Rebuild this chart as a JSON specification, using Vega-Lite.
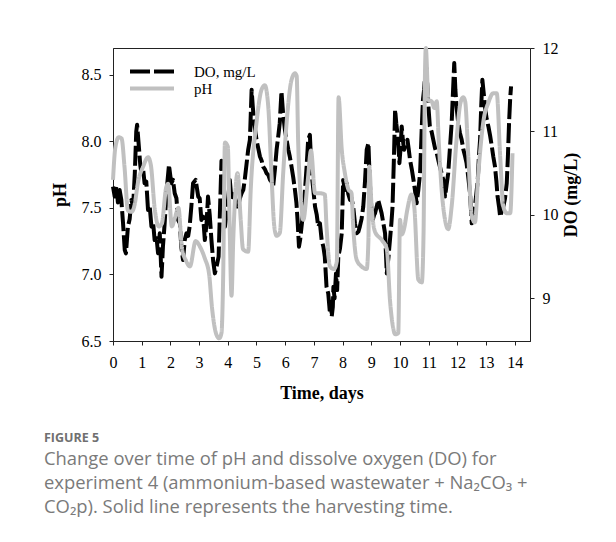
{
  "$schema": "https://vega.github.io/schema/vega-lite/v6.json",
  "width": 417,
  "height": 293,
  "autosize": {"type": "none"},
  "padding": {"left": 113, "top": 48, "right": 86, "bottom": 201},
  "background": "white",
  "config": {
    "view": {"stroke": "#222", "strokeWidth": 1},
    "axis": {
      "labelFont": "Liberation Serif", "labelFontSize": 16, "labelColor": "black",
      "titleFont": "Liberation Serif", "titleFontSize": 18, "titleFontWeight": "bold", "titleColor": "black",
      "domainColor": "#222", "tickColor": "#222", "tickSize": 4, "grid": false, "labelOverlap": false
    }
  },
  "title": {
    "text": "FIGURE 5",
    "subtitle": [
      "Change over time of pH and dissolve oxygen (DO) for",
      "experiment 4 (ammonium-based wastewater + Na₂CO₃ +",
      "CO₂p). Solid line represents the harvesting time."
    ],
    "orient": "bottom", "anchor": "start", "frame": "group", "dx": -69, "offset": 30,
    "font": "Open Sans", "fontSize": 12.5, "fontWeight": "bold", "color": "#707070",
    "subtitleFont": "Open Sans", "subtitleFontSize": 18.4, "subtitleColor": "#7a7a7a",
    "subtitleLineHeight": 24, "subtitlePadding": 5
  },
  "datasets": {
    "do": [
      {"t":0.0,"v":10.34,"s":"DO, mg/L"},{"t":0.06,"v":10.22,"s":"DO, mg/L"},{"t":0.12,"v":10.35,"s":"DO, mg/L"},{"t":0.17,"v":10.15,"s":"DO, mg/L"},
      {"t":0.23,"v":10.3,"s":"DO, mg/L"},{"t":0.29,"v":10.18,"s":"DO, mg/L"},{"t":0.35,"v":9.9,"s":"DO, mg/L"},{"t":0.41,"v":9.58,"s":"DO, mg/L"},
      {"t":0.45,"v":9.54,"s":"DO, mg/L"},{"t":0.52,"v":9.86,"s":"DO, mg/L"},{"t":0.58,"v":9.95,"s":"DO, mg/L"},{"t":0.64,"v":10.18,"s":"DO, mg/L"},
      {"t":0.7,"v":10.1,"s":"DO, mg/L"},{"t":0.76,"v":10.5,"s":"DO, mg/L"},{"t":0.81,"v":11.0,"s":"DO, mg/L"},{"t":0.84,"v":11.08,"s":"DO, mg/L"},
      {"t":0.91,"v":10.78,"s":"DO, mg/L"},{"t":0.95,"v":10.6,"s":"DO, mg/L"},{"t":0.99,"v":10.5,"s":"DO, mg/L"},{"t":1.05,"v":10.55,"s":"DO, mg/L"},
      {"t":1.1,"v":10.38,"s":"DO, mg/L"},{"t":1.16,"v":10.4,"s":"DO, mg/L"},{"t":1.22,"v":10.06,"s":"DO, mg/L"},{"t":1.28,"v":10.1,"s":"DO, mg/L"},
      {"t":1.34,"v":9.86,"s":"DO, mg/L"},{"t":1.4,"v":9.9,"s":"DO, mg/L"},{"t":1.45,"v":9.7,"s":"DO, mg/L"},{"t":1.51,"v":9.75,"s":"DO, mg/L"},
      {"t":1.57,"v":9.54,"s":"DO, mg/L"},{"t":1.63,"v":9.78,"s":"DO, mg/L"},{"t":1.69,"v":9.26,"s":"DO, mg/L"},{"t":1.74,"v":9.62,"s":"DO, mg/L"},
      {"t":1.8,"v":9.9,"s":"DO, mg/L"},{"t":1.86,"v":10.26,"s":"DO, mg/L"},{"t":1.95,"v":10.6,"s":"DO, mg/L"},{"t":2.03,"v":10.38,"s":"DO, mg/L"},
      {"t":2.09,"v":10.42,"s":"DO, mg/L"},{"t":2.15,"v":10.26,"s":"DO, mg/L"},{"t":2.21,"v":10.2,"s":"DO, mg/L"},{"t":2.27,"v":9.94,"s":"DO, mg/L"},
      {"t":2.33,"v":9.9,"s":"DO, mg/L"},{"t":2.38,"v":9.62,"s":"DO, mg/L"},{"t":2.44,"v":9.46,"s":"DO, mg/L"},{"t":2.5,"v":9.7,"s":"DO, mg/L"},
      {"t":2.56,"v":9.78,"s":"DO, mg/L"},{"t":2.62,"v":9.75,"s":"DO, mg/L"},{"t":2.67,"v":9.86,"s":"DO, mg/L"},{"t":2.73,"v":10.1,"s":"DO, mg/L"},
      {"t":2.79,"v":10.38,"s":"DO, mg/L"},{"t":2.88,"v":10.42,"s":"DO, mg/L"},{"t":2.97,"v":10.22,"s":"DO, mg/L"},{"t":3.02,"v":10.2,"s":"DO, mg/L"},
      {"t":3.08,"v":9.94,"s":"DO, mg/L"},{"t":3.14,"v":9.98,"s":"DO, mg/L"},{"t":3.2,"v":9.7,"s":"DO, mg/L"},{"t":3.26,"v":9.9,"s":"DO, mg/L"},
      {"t":3.31,"v":10.22,"s":"DO, mg/L"},{"t":3.37,"v":10.0,"s":"DO, mg/L"},{"t":3.43,"v":9.7,"s":"DO, mg/L"},{"t":3.49,"v":9.45,"s":"DO, mg/L"},
      {"t":3.55,"v":9.3,"s":"DO, mg/L"},{"t":3.62,"v":9.4,"s":"DO, mg/L"},{"t":3.68,"v":9.5,"s":"DO, mg/L"},{"t":3.74,"v":10.2,"s":"DO, mg/L"},
      {"t":3.78,"v":10.65,"s":"DO, mg/L"},{"t":3.84,"v":10.3,"s":"DO, mg/L"},{"t":3.9,"v":9.86,"s":"DO, mg/L"},{"t":3.96,"v":10.0,"s":"DO, mg/L"},
      {"t":4.01,"v":10.18,"s":"DO, mg/L"},{"t":4.07,"v":10.42,"s":"DO, mg/L"},{"t":4.13,"v":10.18,"s":"DO, mg/L"},{"t":4.19,"v":10.25,"s":"DO, mg/L"},
      {"t":4.24,"v":10.22,"s":"DO, mg/L"},{"t":4.3,"v":10.1,"s":"DO, mg/L"},{"t":4.36,"v":10.1,"s":"DO, mg/L"},{"t":4.42,"v":10.2,"s":"DO, mg/L"},
      {"t":4.48,"v":10.26,"s":"DO, mg/L"},{"t":4.54,"v":10.3,"s":"DO, mg/L"},{"t":4.59,"v":10.42,"s":"DO, mg/L"},{"t":4.65,"v":10.6,"s":"DO, mg/L"},
      {"t":4.71,"v":10.78,"s":"DO, mg/L"},{"t":4.77,"v":10.9,"s":"DO, mg/L"},{"t":4.83,"v":11.5,"s":"DO, mg/L"},{"t":4.87,"v":11.3,"s":"DO, mg/L"},
      {"t":4.92,"v":11.1,"s":"DO, mg/L"},{"t":4.96,"v":11.0,"s":"DO, mg/L"},{"t":5.0,"v":10.9,"s":"DO, mg/L"},{"t":5.06,"v":10.8,"s":"DO, mg/L"},
      {"t":5.12,"v":10.7,"s":"DO, mg/L"},{"t":5.18,"v":10.65,"s":"DO, mg/L"},{"t":5.23,"v":10.58,"s":"DO, mg/L"},{"t":5.29,"v":10.55,"s":"DO, mg/L"},
      {"t":5.35,"v":10.5,"s":"DO, mg/L"},{"t":5.41,"v":10.48,"s":"DO, mg/L"},{"t":5.47,"v":10.42,"s":"DO, mg/L"},{"t":5.52,"v":10.4,"s":"DO, mg/L"},
      {"t":5.58,"v":10.34,"s":"DO, mg/L"},{"t":5.64,"v":10.54,"s":"DO, mg/L"},{"t":5.7,"v":10.78,"s":"DO, mg/L"},{"t":5.76,"v":10.95,"s":"DO, mg/L"},
      {"t":5.81,"v":11.1,"s":"DO, mg/L"},{"t":5.87,"v":11.48,"s":"DO, mg/L"},{"t":5.93,"v":11.2,"s":"DO, mg/L"},{"t":5.99,"v":11.02,"s":"DO, mg/L"},
      {"t":6.05,"v":10.9,"s":"DO, mg/L"},{"t":6.11,"v":10.78,"s":"DO, mg/L"},{"t":6.16,"v":10.7,"s":"DO, mg/L"},{"t":6.22,"v":10.58,"s":"DO, mg/L"},
      {"t":6.28,"v":10.45,"s":"DO, mg/L"},{"t":6.34,"v":10.3,"s":"DO, mg/L"},{"t":6.39,"v":10.15,"s":"DO, mg/L"},{"t":6.43,"v":9.94,"s":"DO, mg/L"},
      {"t":6.48,"v":9.62,"s":"DO, mg/L"},{"t":6.52,"v":9.7,"s":"DO, mg/L"},{"t":6.57,"v":9.86,"s":"DO, mg/L"},{"t":6.63,"v":10.05,"s":"DO, mg/L"},
      {"t":6.69,"v":10.3,"s":"DO, mg/L"},{"t":6.75,"v":10.6,"s":"DO, mg/L"},{"t":6.8,"v":10.9,"s":"DO, mg/L"},{"t":6.86,"v":10.96,"s":"DO, mg/L"},
      {"t":6.92,"v":10.5,"s":"DO, mg/L"},{"t":6.98,"v":10.3,"s":"DO, mg/L"},{"t":7.04,"v":10.1,"s":"DO, mg/L"},{"t":7.1,"v":10.0,"s":"DO, mg/L"},
      {"t":7.15,"v":9.86,"s":"DO, mg/L"},{"t":7.21,"v":9.9,"s":"DO, mg/L"},{"t":7.27,"v":9.7,"s":"DO, mg/L"},{"t":7.33,"v":9.62,"s":"DO, mg/L"},
      {"t":7.38,"v":9.5,"s":"DO, mg/L"},{"t":7.44,"v":9.14,"s":"DO, mg/L"},{"t":7.5,"v":9.06,"s":"DO, mg/L"},{"t":7.56,"v":8.82,"s":"DO, mg/L"},
      {"t":7.6,"v":8.95,"s":"DO, mg/L"},{"t":7.62,"v":8.78,"s":"DO, mg/L"},{"t":7.66,"v":8.9,"s":"DO, mg/L"},{"t":7.68,"v":9.14,"s":"DO, mg/L"},
      {"t":7.72,"v":9.0,"s":"DO, mg/L"},{"t":7.77,"v":9.3,"s":"DO, mg/L"},{"t":7.81,"v":9.1,"s":"DO, mg/L"},{"t":7.85,"v":9.5,"s":"DO, mg/L"},
      {"t":7.91,"v":9.6,"s":"DO, mg/L"},{"t":7.97,"v":9.78,"s":"DO, mg/L"},{"t":8.02,"v":10.42,"s":"DO, mg/L"},{"t":8.08,"v":10.3,"s":"DO, mg/L"},
      {"t":8.14,"v":10.38,"s":"DO, mg/L"},{"t":8.2,"v":10.25,"s":"DO, mg/L"},{"t":8.26,"v":10.18,"s":"DO, mg/L"},{"t":8.31,"v":10.2,"s":"DO, mg/L"},
      {"t":8.37,"v":10.1,"s":"DO, mg/L"},{"t":8.43,"v":9.9,"s":"DO, mg/L"},{"t":8.49,"v":9.78,"s":"DO, mg/L"},{"t":8.55,"v":9.8,"s":"DO, mg/L"},
      {"t":8.6,"v":9.86,"s":"DO, mg/L"},{"t":8.66,"v":9.95,"s":"DO, mg/L"},{"t":8.72,"v":10.1,"s":"DO, mg/L"},{"t":8.78,"v":10.4,"s":"DO, mg/L"},
      {"t":8.84,"v":10.78,"s":"DO, mg/L"},{"t":8.9,"v":10.86,"s":"DO, mg/L"},{"t":8.95,"v":10.38,"s":"DO, mg/L"},{"t":9.0,"v":10.1,"s":"DO, mg/L"},
      {"t":9.05,"v":9.94,"s":"DO, mg/L"},{"t":9.1,"v":10.0,"s":"DO, mg/L"},{"t":9.13,"v":10.02,"s":"DO, mg/L"},{"t":9.19,"v":10.1,"s":"DO, mg/L"},
      {"t":9.24,"v":10.18,"s":"DO, mg/L"},{"t":9.3,"v":10.1,"s":"DO, mg/L"},{"t":9.36,"v":10.02,"s":"DO, mg/L"},{"t":9.42,"v":9.9,"s":"DO, mg/L"},
      {"t":9.48,"v":9.78,"s":"DO, mg/L"},{"t":9.54,"v":9.3,"s":"DO, mg/L"},{"t":9.6,"v":9.5,"s":"DO, mg/L"},{"t":9.65,"v":9.7,"s":"DO, mg/L"},
      {"t":9.7,"v":9.9,"s":"DO, mg/L"},{"t":9.74,"v":10.1,"s":"DO, mg/L"},{"t":9.79,"v":10.7,"s":"DO, mg/L"},{"t":9.83,"v":11.26,"s":"DO, mg/L"},
      {"t":9.87,"v":11.1,"s":"DO, mg/L"},{"t":9.91,"v":10.98,"s":"DO, mg/L"},{"t":9.95,"v":10.8,"s":"DO, mg/L"},{"t":9.98,"v":10.62,"s":"DO, mg/L"},
      {"t":10.02,"v":10.8,"s":"DO, mg/L"},{"t":10.06,"v":11.06,"s":"DO, mg/L"},{"t":10.1,"v":10.9,"s":"DO, mg/L"},{"t":10.14,"v":10.78,"s":"DO, mg/L"},
      {"t":10.2,"v":10.85,"s":"DO, mg/L"},{"t":10.26,"v":10.9,"s":"DO, mg/L"},{"t":10.3,"v":10.8,"s":"DO, mg/L"},{"t":10.35,"v":10.66,"s":"DO, mg/L"},
      {"t":10.41,"v":10.55,"s":"DO, mg/L"},{"t":10.47,"v":10.42,"s":"DO, mg/L"},{"t":10.52,"v":10.3,"s":"DO, mg/L"},{"t":10.58,"v":10.14,"s":"DO, mg/L"},
      {"t":10.64,"v":10.3,"s":"DO, mg/L"},{"t":10.7,"v":10.5,"s":"DO, mg/L"},{"t":10.76,"v":11.06,"s":"DO, mg/L"},{"t":10.8,"v":11.38,"s":"DO, mg/L"},
      {"t":10.84,"v":11.5,"s":"DO, mg/L"},{"t":10.88,"v":11.7,"s":"DO, mg/L"},{"t":10.92,"v":11.76,"s":"DO, mg/L"},{"t":10.96,"v":11.5,"s":"DO, mg/L"},
      {"t":10.99,"v":11.3,"s":"DO, mg/L"},{"t":11.04,"v":11.06,"s":"DO, mg/L"},{"t":11.1,"v":11.0,"s":"DO, mg/L"},{"t":11.16,"v":10.9,"s":"DO, mg/L"},
      {"t":11.22,"v":10.8,"s":"DO, mg/L"},{"t":11.28,"v":10.74,"s":"DO, mg/L"},{"t":11.34,"v":10.65,"s":"DO, mg/L"},{"t":11.39,"v":10.58,"s":"DO, mg/L"},
      {"t":11.45,"v":10.5,"s":"DO, mg/L"},{"t":11.51,"v":10.42,"s":"DO, mg/L"},{"t":11.57,"v":10.22,"s":"DO, mg/L"},{"t":11.62,"v":10.35,"s":"DO, mg/L"},
      {"t":11.68,"v":10.5,"s":"DO, mg/L"},{"t":11.74,"v":10.8,"s":"DO, mg/L"},{"t":11.8,"v":11.1,"s":"DO, mg/L"},{"t":11.85,"v":11.5,"s":"DO, mg/L"},
      {"t":11.89,"v":11.82,"s":"DO, mg/L"},{"t":11.93,"v":11.5,"s":"DO, mg/L"},{"t":11.97,"v":11.3,"s":"DO, mg/L"},{"t":12.03,"v":11.1,"s":"DO, mg/L"},
      {"t":12.09,"v":10.98,"s":"DO, mg/L"},{"t":12.15,"v":10.9,"s":"DO, mg/L"},{"t":12.21,"v":10.78,"s":"DO, mg/L"},{"t":12.27,"v":10.7,"s":"DO, mg/L"},
      {"t":12.32,"v":10.62,"s":"DO, mg/L"},{"t":12.38,"v":10.45,"s":"DO, mg/L"},{"t":12.44,"v":10.26,"s":"DO, mg/L"},{"t":12.5,"v":9.9,"s":"DO, mg/L"},
      {"t":12.55,"v":10.0,"s":"DO, mg/L"},{"t":12.61,"v":10.1,"s":"DO, mg/L"},{"t":12.66,"v":10.25,"s":"DO, mg/L"},{"t":12.71,"v":10.42,"s":"DO, mg/L"},
      {"t":12.75,"v":10.7,"s":"DO, mg/L"},{"t":12.79,"v":10.9,"s":"DO, mg/L"},{"t":12.83,"v":11.3,"s":"DO, mg/L"},{"t":12.87,"v":11.62,"s":"DO, mg/L"},
      {"t":12.92,"v":11.45,"s":"DO, mg/L"},{"t":12.96,"v":11.3,"s":"DO, mg/L"},{"t":13.02,"v":11.15,"s":"DO, mg/L"},{"t":13.08,"v":11.06,"s":"DO, mg/L"},
      {"t":13.14,"v":10.95,"s":"DO, mg/L"},{"t":13.2,"v":10.82,"s":"DO, mg/L"},{"t":13.25,"v":10.7,"s":"DO, mg/L"},{"t":13.31,"v":10.58,"s":"DO, mg/L"},
      {"t":13.36,"v":10.4,"s":"DO, mg/L"},{"t":13.4,"v":10.22,"s":"DO, mg/L"},{"t":13.45,"v":10.1,"s":"DO, mg/L"},{"t":13.49,"v":9.98,"s":"DO, mg/L"},
      {"t":13.55,"v":10.05,"s":"DO, mg/L"},{"t":13.6,"v":10.1,"s":"DO, mg/L"},{"t":13.66,"v":10.2,"s":"DO, mg/L"},{"t":13.72,"v":10.38,"s":"DO, mg/L"},
      {"t":13.76,"v":10.7,"s":"DO, mg/L"},{"t":13.8,"v":11.1,"s":"DO, mg/L"},{"t":13.84,"v":11.4,"s":"DO, mg/L"},{"t":13.87,"v":11.54,"s":"DO, mg/L"}
    ],
    "ph": [
      {"t":0.0,"v":7.71,"s":"pH"},{"t":0.08,"v":7.95,"s":"pH"},{"t":0.2,"v":8.03,"s":"pH"},{"t":0.3,"v":8.02,"s":"pH"},
      {"t":0.4,"v":7.81,"s":"pH"},{"t":0.52,"v":7.48,"s":"pH"},{"t":0.65,"v":7.47,"s":"pH"},{"t":0.75,"v":7.52,"s":"pH"},
      {"t":0.87,"v":7.69,"s":"pH"},{"t":1.05,"v":7.81,"s":"pH"},{"t":1.22,"v":7.88,"s":"pH"},{"t":1.32,"v":7.82,"s":"pH"},
      {"t":1.45,"v":7.5,"s":"pH"},{"t":1.6,"v":7.36,"s":"pH"},{"t":1.7,"v":7.38,"s":"pH"},{"t":1.85,"v":7.65,"s":"pH"},
      {"t":1.92,"v":7.68,"s":"pH"},{"t":2.05,"v":7.36,"s":"pH"},{"t":2.15,"v":7.42,"s":"pH"},{"t":2.28,"v":7.5,"s":"pH"},
      {"t":2.4,"v":7.2,"s":"pH"},{"t":2.55,"v":7.1,"s":"pH"},{"t":2.68,"v":7.06,"s":"pH"},{"t":2.88,"v":7.25,"s":"pH"},
      {"t":3.05,"v":7.2,"s":"pH"},{"t":3.2,"v":7.12,"s":"pH"},{"t":3.35,"v":7.0,"s":"pH"},{"t":3.45,"v":6.75,"s":"pH"},
      {"t":3.6,"v":6.55,"s":"pH"},{"t":3.7,"v":6.52,"s":"pH"},{"t":3.78,"v":6.56,"s":"pH"},{"t":3.84,"v":7.0,"s":"pH"},
      {"t":3.9,"v":7.99,"s":"pH"},{"t":4.0,"v":7.96,"s":"pH"},{"t":4.06,"v":7.4,"s":"pH"},{"t":4.13,"v":6.84,"s":"pH"},
      {"t":4.19,"v":7.26,"s":"pH"},{"t":4.34,"v":7.76,"s":"pH"},{"t":4.45,"v":7.41,"s":"pH"},{"t":4.53,"v":7.19,"s":"pH"},
      {"t":4.71,"v":7.17,"s":"pH"},{"t":4.8,"v":7.64,"s":"pH"},{"t":5.0,"v":8.14,"s":"pH"},{"t":5.18,"v":8.39,"s":"pH"},
      {"t":5.29,"v":8.42,"s":"pH"},{"t":5.41,"v":8.26,"s":"pH"},{"t":5.52,"v":7.76,"s":"pH"},{"t":5.62,"v":7.36,"s":"pH"},
      {"t":5.7,"v":7.29,"s":"pH"},{"t":5.81,"v":7.31,"s":"pH"},{"t":5.93,"v":7.76,"s":"pH"},{"t":6.05,"v":8.14,"s":"pH"},
      {"t":6.22,"v":8.46,"s":"pH"},{"t":6.34,"v":8.51,"s":"pH"},{"t":6.4,"v":8.49,"s":"pH"},{"t":6.45,"v":8.01,"s":"pH"},
      {"t":6.55,"v":7.56,"s":"pH"},{"t":6.63,"v":7.41,"s":"pH"},{"t":6.78,"v":7.69,"s":"pH"},{"t":6.9,"v":7.93,"s":"pH"},
      {"t":7.04,"v":7.61,"s":"pH"},{"t":7.2,"v":7.61,"s":"pH"},{"t":7.38,"v":7.6,"s":"pH"},{"t":7.44,"v":7.36,"s":"pH"},
      {"t":7.56,"v":7.06,"s":"pH"},{"t":7.7,"v":7.04,"s":"pH"},{"t":7.8,"v":7.1,"s":"pH"},{"t":7.86,"v":8.33,"s":"pH"},
      {"t":7.97,"v":7.94,"s":"pH"},{"t":8.08,"v":7.76,"s":"pH"},{"t":8.2,"v":7.64,"s":"pH"},{"t":8.31,"v":7.61,"s":"pH"},
      {"t":8.37,"v":7.36,"s":"pH"},{"t":8.49,"v":7.11,"s":"pH"},{"t":8.66,"v":7.06,"s":"pH"},{"t":8.84,"v":7.04,"s":"pH"},
      {"t":8.9,"v":7.26,"s":"pH"},{"t":8.93,"v":7.81,"s":"pH"},{"t":9.01,"v":7.51,"s":"pH"},{"t":9.13,"v":7.32,"s":"pH"},
      {"t":9.36,"v":7.26,"s":"pH"},{"t":9.54,"v":7.19,"s":"pH"},{"t":9.65,"v":6.81,"s":"pH"},{"t":9.77,"v":6.59,"s":"pH"},
      {"t":9.83,"v":6.55,"s":"pH"},{"t":9.94,"v":6.56,"s":"pH"},{"t":10.0,"v":7.41,"s":"pH"},{"t":10.06,"v":7.3,"s":"pH"},
      {"t":10.15,"v":7.35,"s":"pH"},{"t":10.25,"v":7.48,"s":"pH"},{"t":10.4,"v":7.6,"s":"pH"},{"t":10.5,"v":7.5,"s":"pH"},
      {"t":10.64,"v":6.96,"s":"pH"},{"t":10.76,"v":6.94,"s":"pH"},{"t":10.82,"v":7.3,"s":"pH"},{"t":10.87,"v":8.5,"s":"pH"},
      {"t":10.9,"v":8.7,"s":"pH"},{"t":10.99,"v":8.31,"s":"pH"},{"t":11.1,"v":8.3,"s":"pH"},{"t":11.2,"v":8.25,"s":"pH"},
      {"t":11.28,"v":8.3,"s":"pH"},{"t":11.35,"v":8.0,"s":"pH"},{"t":11.45,"v":7.64,"s":"pH"},{"t":11.57,"v":7.41,"s":"pH"},
      {"t":11.68,"v":7.34,"s":"pH"},{"t":11.8,"v":7.51,"s":"pH"},{"t":11.97,"v":8.01,"s":"pH"},{"t":12.1,"v":8.28,"s":"pH"},
      {"t":12.2,"v":8.33,"s":"pH"},{"t":12.27,"v":8.3,"s":"pH"},{"t":12.38,"v":7.89,"s":"pH"},{"t":12.5,"v":7.44,"s":"pH"},
      {"t":12.61,"v":7.39,"s":"pH"},{"t":12.73,"v":7.76,"s":"pH"},{"t":12.9,"v":8.14,"s":"pH"},{"t":13.08,"v":8.29,"s":"pH"},
      {"t":13.25,"v":8.36,"s":"pH"},{"t":13.37,"v":8.36,"s":"pH"},{"t":13.49,"v":7.89,"s":"pH"},{"t":13.6,"v":7.51,"s":"pH"},
      {"t":13.72,"v":7.46,"s":"pH"},{"t":13.84,"v":7.46,"s":"pH"},{"t":13.92,"v":7.91,"s":"pH"}
    ]
  },
  "layer": [
    {
      "data": {"name": "do"},
      "mark": {"type": "line", "strokeWidth": 4, "strokeJoin": "round", "strokeCap": "butt"},
      "encoding": {
        "x": {"field": "t", "type": "quantitative", "scale": {"domain": [0, 14.53], "nice": false, "zero": false},
              "axis": {"values": [0,1,2,3,4,5,6,7,8,9,10,11,12,13,14], "title": "Time, days", "labelPadding": 9, "titlePadding": 14, "labelFlush": false, "labelOverlap": false, "labelSeparation": 0}},
        "y": {"field": "v", "type": "quantitative", "scale": {"domain": [8.49, 12], "nice": false, "zero": false},
              "axis": {"orient": "right", "values": [9,10,11,12], "title": "DO (mg/L)", "labelPadding": 8, "titleAngle": 270, "titlePadding": 22, "labelFlush": false}},
        "color": {"field": "s", "type": "nominal", "scale": {"domain": ["DO, mg/L", "pH"], "range": ["#000000", "#c0c0c0"]},
                  "legend": {"orient": "none", "legendX": 15, "legendY": 16, "title": null, "symbolType": "M-1,0H7", "symbolSize": 121, "symbolStrokeWidth": 4,
                             "labelFont": "Liberation Serif", "labelFontSize": 15, "labelColor": "black", "padding": 0, "rowPadding": 0, "labelOffset": 51}},
        "strokeDash": {"field": "s", "type": "nominal", "scale": {"domain": ["DO, mg/L", "pH"], "range": [[20, 4], [1, 0]]},
                  "legend": {"orient": "none", "legendX": 15, "legendY": 16, "title": null, "symbolType": "M-1,0H7", "symbolSize": 121, "symbolStrokeWidth": 4,
                             "labelFont": "Liberation Serif", "labelFontSize": 15, "labelColor": "black", "padding": 0, "rowPadding": 0, "labelOffset": 51}}
      }
    },
    {
      "data": {"name": "ph"},
      "mark": {"type": "line", "strokeWidth": 4, "strokeJoin": "round", "interpolate": "monotone"},
      "encoding": {
        "x": {"field": "t", "type": "quantitative", "axis": {"values": [0,1,2,3,4,5,6,7,8,9,10,11,12,13,14], "title": "Time, days", "labelPadding": 9, "titlePadding": 14, "labelFlush": false, "labelOverlap": false, "labelSeparation": 0}},
        "y": {"field": "v", "type": "quantitative", "scale": {"domain": [6.5, 8.7], "nice": false, "zero": false},
              "axis": {"orient": "left", "values": [6.5, 7, 7.5, 8, 8.5], "format": ".1f", "title": "pH", "labelPadding": 8, "titlePadding": 12, "labelFlush": false}},
        "color": {"field": "s", "type": "nominal"},
        "strokeDash": {"field": "s", "type": "nominal"}
      }
    }
  ],
  "resolve": {"scale": {"y": "independent"}}
}
